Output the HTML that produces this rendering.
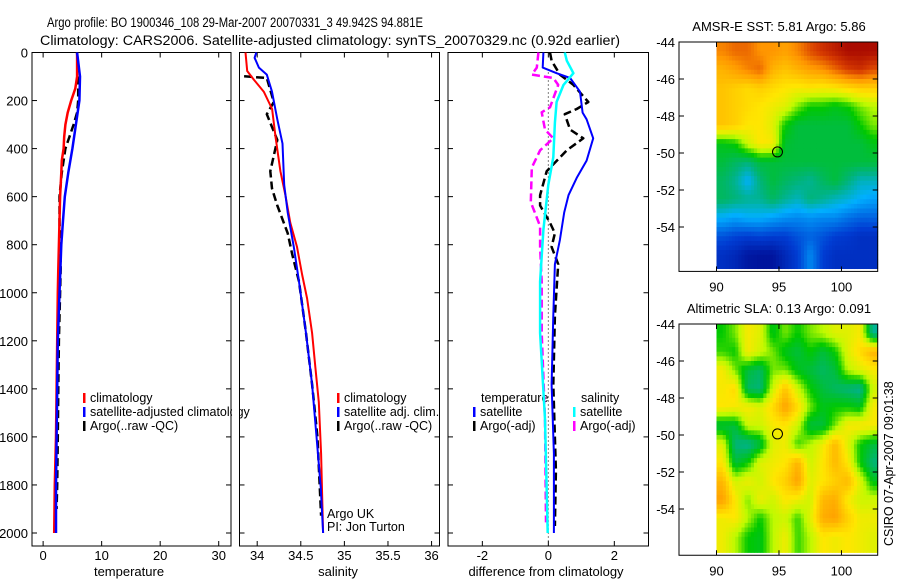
<!DOCTYPE html>
<html><head><meta charset="utf-8"><style>
body{margin:0;background:#fff}
svg{display:block;font-family:"Liberation Sans",sans-serif}
</style></head><body>
<svg id="fig" width="900" height="580" viewBox="0 0 900 580"></svg>
<script>
// ---------- data ----------
const tempDepth=[0,100,150,200,250,300,350,400,450,500,600,700,800,900,1000,1200,1400,1600,1800,2000];
const tempClim=[5.8,5.8,5.5,4.8,4.2,3.8,3.6,3.5,3.2,3.1,2.9,2.8,2.7,2.6,2.5,2.4,2.3,2.2,2.0,1.9];
const tempSatDepth=[0,100,200,300,400,500,600,700,800,1000,1200,1400,1600,1800,2000];
const tempSat=[5.8,6.3,6.2,5.6,5.0,4.3,3.7,3.4,3.1,2.8,2.5,2.4,2.3,2.2,2.2];
const tempArgoDepth=[0,100,200,250,300,350,400,500,600,700,800,900,1000,1200,1400,1600,1800,1900];
const tempArgo=[5.8,6.0,6.0,5.8,5.2,4.5,3.8,3.2,2.8,2.8,2.9,3.0,2.9,2.7,2.6,2.5,2.4,2.3];

const salClimDepth=[0,77,113,163,235,350,494,594,709,809,924,1024,1168,1312,1455,1670,2000];
const salClim=[33.866,33.885,33.961,34.076,34.171,34.21,34.266,34.323,34.38,34.457,34.515,34.572,34.63,34.668,34.706,34.733,34.756];
const salSatDepth=[0,22,63,92,163,278,379,551,666,809,953,1168,1382,1598,1813,2000];
const salSat=[33.99,33.97,34.02,34.11,34.17,34.23,34.29,34.31,34.35,34.42,34.48,34.56,34.63,34.68,34.73,34.756];
const salArgoDepth=[99,106,206,257,364,494,566,637,752,838,953,1168,1382,1598,1928];
const salArgo=[33.85,34.11,34.19,34.11,34.23,34.15,34.17,34.23,34.35,34.40,34.48,34.56,34.63,34.69,34.733];

const dTSatDepth=[0,63,86,106,163,250,278,357,450,522,594,666,780,881,1095,1382,1670,2000];
const dTSat=[-0.15,-0.17,0.25,0.66,0.96,1.04,1.16,1.36,1.16,0.86,0.61,0.48,0.35,0.20,0.15,0.10,0.17,0.17];
const dTArgoDepth=[0,34,92,135,206,235,257,321,357,407,494,594,637,709,752,809,881,1095,1382,1741,1971];
const dTArgo=[0.05,0.1,0.35,0.76,1.21,0.86,0.5,0.66,1.06,0.56,-0.05,-0.25,-0.25,0.05,0.2,0.1,0.3,0.2,0.15,0.23,0.2];
const dSSatDepth=[0,34,86,135,206,292,436,551,738,953,1168,1526,2000];
const dSSat=[0.5,0.56,0.76,0.46,0.25,0.2,0.15,0.0,-0.15,-0.25,-0.25,-0.1,-0.02];
const dSArgoDepth=[0,63,92,106,135,228,249,321,357,407,479,623,723,809,953,1168,1526,1956];
const dSArgo=[-0.3,-0.35,-0.5,0.15,0.3,0.05,-0.2,-0.1,0.15,-0.25,-0.5,-0.53,-0.25,-0.25,-0.2,-0.2,-0.1,-0.07];

const depthTicks=[0,200,400,600,800,1000,1200,1400,1600,1800,2000];
const tempTicks=[0,10,20,30];
const salTicks=[34,34.5,35,35.5,36];
const salTickLabels=["34","34.5","35","35.5","36"];
const diffTicks=[-2,0,2];
const latTicks=[-44,-46,-48,-50,-52,-54];
const lonTicks=[90,95,100];

const sstGrid=[
[0.82,0.85,0.85,0.8,0.8,0.78,0.82,0.88,0.92,0.95,0.98,0.98,0.98],
[0.75,0.78,0.82,0.85,0.75,0.72,0.75,0.78,0.8,0.85,0.9,0.92,0.88],
[0.72,0.7,0.68,0.7,0.68,0.66,0.65,0.66,0.65,0.66,0.68,0.7,0.7],
[0.72,0.7,0.68,0.66,0.64,0.62,0.55,0.5,0.5,0.48,0.5,0.55,0.58],
[0.72,0.7,0.66,0.66,0.62,0.5,0.45,0.45,0.45,0.45,0.45,0.5,0.55],
[0.48,0.5,0.6,0.66,0.65,0.46,0.45,0.45,0.45,0.45,0.45,0.45,0.48],
[0.45,0.42,0.4,0.45,0.45,0.45,0.45,0.45,0.45,0.45,0.45,0.45,0.45],
[0.42,0.38,0.3,0.4,0.45,0.42,0.4,0.38,0.42,0.45,0.4,0.35,0.35],
[0.42,0.4,0.38,0.38,0.42,0.38,0.35,0.4,0.38,0.35,0.33,0.3,0.28],
[0.3,0.28,0.3,0.3,0.28,0.26,0.25,0.26,0.25,0.25,0.22,0.2,0.2],
[0.18,0.16,0.15,0.16,0.15,0.15,0.18,0.2,0.18,0.15,0.14,0.12,0.12],
[0.12,0.1,0.06,0.05,0.05,0.1,0.15,0.25,0.15,0.12,0.12,0.12,0.12]];
const slaGrid=[
[0.5,0.55,0.65,0.62,0.48,0.55,0.5,0.55,0.58,0.62,0.62,0.65,0.38],
[0.52,0.5,0.65,0.6,0.55,0.48,0.45,0.5,0.45,0.5,0.62,0.68,0.75],
[0.65,0.55,0.45,0.42,0.55,0.55,0.48,0.45,0.42,0.45,0.58,0.62,0.65],
[0.65,0.68,0.42,0.4,0.6,0.72,0.6,0.5,0.45,0.42,0.4,0.38,0.6],
[0.66,0.65,0.65,0.62,0.68,0.78,0.68,0.55,0.48,0.5,0.5,0.48,0.65],
[0.45,0.45,0.6,0.6,0.65,0.66,0.6,0.45,0.45,0.55,0.65,0.66,0.65],
[0.62,0.4,0.38,0.45,0.62,0.64,0.52,0.58,0.64,0.74,0.62,0.5,0.45],
[0.66,0.45,0.5,0.62,0.64,0.66,0.75,0.6,0.66,0.74,0.66,0.5,0.4],
[0.74,0.6,0.64,0.6,0.66,0.7,0.78,0.62,0.66,0.7,0.74,0.62,0.48],
[0.78,0.66,0.55,0.64,0.6,0.66,0.64,0.6,0.74,0.76,0.65,0.6,0.6],
[0.64,0.66,0.58,0.5,0.58,0.6,0.52,0.62,0.76,0.78,0.7,0.64,0.64],
[0.64,0.58,0.5,0.48,0.58,0.64,0.52,0.58,0.66,0.64,0.66,0.64,0.62]];

// ---------- helpers ----------
const NS="http://www.w3.org/2000/svg";
const svg=document.getElementById('fig');
function mk(tag,attrs,parent){const e=document.createElementNS(NS,tag);for(const k in attrs)e.setAttribute(k,attrs[k]);(parent||svg).appendChild(e);return e;}
function txt(x,y,s,size,anchor,parent){const t=mk('text',{x:x,y:y,'font-size':size,'text-anchor':anchor||'start',fill:'#000'},parent);t.textContent=s;return t;}

const TOP=52.5,BOT=546,D0=52.5,D2000=533;
const yD=d=>D0+d*(D2000-D0)/2000;
const panels=[
 {name:'temperature',x0:32,x1:231,xmin:-1.9,xmax:32.1},
 {name:'salinity',x0:239.5,x1:439.5,xmin:33.797,xmax:36.091},
 {name:'difference',x0:448,x1:648.5,xmin:-3.041,xmax:3.036}];
panels.forEach(p=>{p.sx=v=>p.x0+(v-p.xmin)*(p.x1-p.x0)/(p.xmax-p.xmin);});

function axesBox(p,name){
 const g=mk('g',{});
 
 
 mk('rect',{x:p.x0,y:TOP,width:p.x1-p.x0,height:BOT-TOP,fill:'none',stroke:'#000','stroke-width':1},g);
 depthTicks.forEach(d=>{const y=yD(d);
  mk('line',{x1:p.x0,x2:p.x0+5,y1:y,y2:y,stroke:'#000'},g);
  mk('line',{x1:p.x1-5,x2:p.x1,y1:y,y2:y,stroke:'#000'},g);});
 return g;
}
function xTicks(p,g,ticks,labels){
 ticks.forEach((v,i)=>{const x=p.sx(v);
  mk('line',{x1:x,x2:x,y1:BOT,y2:BOT-5,stroke:'#000'},g);
  mk('line',{x1:x,x2:x,y1:TOP,y2:TOP+5,stroke:'#000'},g);
  const t=txt(x,560,labels?labels[i]:String(v),13,'middle',g);
  
  });
}
function line(p,vals,depths,color,w,dash,name){
 const pts=vals.map((v,i)=>p.sx(v).toFixed(1)+','+yD(depths[i]).toFixed(1)).join(' ');
 const a={points:pts,fill:'none',stroke:color,'stroke-width':w,'stroke-linejoin':'round'};
 if(dash)a['stroke-dasharray']=dash;
 const e=mk('polyline',a);
 
 
}
function legend(x,y,items,g){
 items.forEach((it,i)=>{const yy=y+i*14;
  mk('rect',{x:x,y:yy-9,width:2.5,height:10,fill:it[1]},g);
  const t=txt(x+7,yy,it[0],12.5,'start',g);
  
  });
}

// titles
let t1=txt(47,27,'Argo profile: BO 1900346_108 29-Mar-2007 20070331_3 49.942S 94.881E',13.5);
t1.setAttribute('textLength','376');
t1.setAttribute('lengthAdjust','spacingAndGlyphs');


let t2=txt(40,45,'Climatology: CARS2006. Satellite-adjusted climatology: synTS_20070329.nc (0.92d earlier)',13.5);
t2.setAttribute('textLength','580');
t2.setAttribute('lengthAdjust','spacingAndGlyphs');



// panel 1
let p=panels[0];
let g=axesBox(p,'temperature');
depthTicks.forEach(d=>{const t=txt(28,yD(d)+5,String(d),13,'end',g);
 
 });
xTicks(p,g,tempTicks);
let xl=txt(129,576,'temperature',13,'middle',g);


line(p,tempArgo,tempArgoDepth,'#000',2.5,'8,4','temp-argo-line');
line(p,tempClim,tempDepth,'#f00',2.5,null,'temp-climatology-line');
line(p,tempSat,tempSatDepth,'#00f',2.5,null,'temp-satellite-line');
legend(83,402,[['climatology','#f00'],['satellite-adjusted climatology','#00f'],['Argo(..raw -QC)','#000']],g);
mk('rect',{x:232,y:380,width:7,height:60,fill:'#fff'});

// panel 2
p=panels[1];
g=axesBox(p,'salinity');
xTicks(p,g,salTicks,salTickLabels);
xl=txt(338,576,'salinity',13,'middle',g);


line(p,salArgo,salArgoDepth,'#000',2.5,'8,4','sal-argo-line');
line(p,salClim,salClimDepth,'#f00',2,null,'sal-climatology-line');
line(p,salSat,salSatDepth,'#00f',2,null,'sal-satellite-line');
legend(337,402,[['climatology','#f00'],['satellite adj. clim.','#00f'],['Argo(..raw -QC)','#000']],g);
let a1=txt(327,518,'Argo UK',12.5,'start',g);


let a3=txt(327,531,'PI: Jon Turton',12.5,'start',g);



// panel 3
p=panels[2];
g=axesBox(p,'difference');
xTicks(p,g,diffTicks);
xl=txt(546,576,'difference from climatology',13,'middle',g);


let zl=mk('line',{x1:p.sx(0),x2:p.sx(0),y1:yD(0)+20,y2:BOT-5,stroke:'#000','stroke-width':1,'stroke-dasharray':'1,3'},g);


line(p,dTArgo,dTArgoDepth,'#000',2.5,'8,4','diff-temp-argo-line');
line(p,dSArgo,dSArgoDepth,'#f0f',2.5,'8,4','diff-sal-argo-line');
line(p,dTSat,dTSatDepth,'#00f',2,null,'diff-temp-satellite-line');
line(p,dSSat,dSSatDepth,'#0ff',2.5,null,'diff-sal-satellite-line');
let lt=txt(481,402,'temperature',12.5,'start',g);


let ls=txt(581,402,'salinity',12.5,'start',g);


legend(473,416,[['satellite','#00f'],['Argo(-adj)','#000']],g);
legend(573,416,[['satellite','#0ff'],['Argo(-adj)','#f0f']],g);

// ---------- maps ----------
const cmapStops=[[0,0,0,130],[0.15,0,60,210],[0.3,0,175,255],[0.4,0,180,120],[0.5,0,200,0],[0.58,190,250,0],[0.66,255,230,0],[0.8,255,150,0],[0.9,215,60,0],[1,160,0,0]];
function cmap(v){v=Math.max(0,Math.min(1,v));
 for(let i=1;i<cmapStops.length;i++){const a=cmapStops[i-1],b=cmapStops[i];
  if(v<=b[0]){const t=(v-a[0])/(b[0]-a[0]);
   return `rgb(${Math.round(a[1]+t*(b[1]-a[1]))},${Math.round(a[2]+t*(b[2]-a[2]))},${Math.round(a[3]+t*(b[3]-a[3]))})`;}}
 return 'rgb(160,0,0)';}
function sample(grid,lon,lat){
 const fc=Math.max(0,Math.min(12,lon-90.5)),fr=Math.max(0,Math.min(11,-44.5-lat));
 const c0=Math.floor(fc),r0=Math.floor(fr),c1=Math.min(12,c0+1),r1=Math.min(11,r0+1);
 const tc=fc-c0,tr=fr-r0;
 const a=grid[r0][c0]*(1-tc)+grid[r0][c1]*tc, b=grid[r1][c0]*(1-tc)+grid[r1][c1]*tc;
 return a*(1-tr)+b*tr;}
function map(top,bottomLat,grid,title,name){
 const X0=679,X1=877.7,lonMin=87.0,lonMax=102.9,SC=18.5;
 const sx=l=>X0+(l-lonMin)*(X1-X0)/(lonMax-lonMin);
 const sy=la=>top+(-44-la)*SC;
 const bot=sy(bottomLat);
 const gm=mk('g',{});
 
 
 const step=0.25, dataBottom=bottomLat+0.15;
 for(let lat=-44;lat>dataBottom-1e-6;lat-=step){
  for(let lon=90;lon<102.9-1e-6;lon+=step){
   const v=sample(grid,lon+step/2,lat-step/2);
   const x=sx(lon),y=sy(lat);
   const w=Math.min(sx(lon+step),X1)-x;
   const h=Math.min(sy(lat-step),sy(dataBottom))-y;
   if(w<=0||h<=0)continue;
   const cell=mk('rect',{x:x.toFixed(2),y:y.toFixed(2),width:(w+0.4).toFixed(2),height:(h+0.4).toFixed(2),fill:cmap(v)},gm);
   
   
  }}
 mk('rect',{x:X0,y:top,width:X1-X0,height:bot-top,fill:'none',stroke:'#000'},gm);
 latTicks.forEach(la=>{const y=sy(la);
  mk('line',{x1:X0,x2:X0+5,y1:y,y2:y,stroke:'#000'},gm);
  mk('line',{x1:X1-5,x2:X1,y1:y,y2:y,stroke:'#000'},gm);
  const t=txt(X0-4,y+5,String(la),13,'end',gm);
  
  });
 lonTicks.forEach(lo=>{const x=sx(lo);
  mk('line',{x1:x,x2:x,y1:bot,y2:bot-5,stroke:'#000'},gm);
  mk('line',{x1:x,x2:x,y1:top,y2:top+5,stroke:'#000'},gm);
  const t=txt(x,bot+20,String(lo),13,'middle',gm);
  
  });
 const c=mk('circle',{cx:sx(94.881),cy:sy(-49.942),r:5,fill:'none',stroke:'#000','stroke-width':1},gm);
 
 
 const t=txt(779,top-11,title,13,'middle',gm);
 
 
}
map(42,-56.4,sstGrid,'AMSR-E SST: 5.81 Argo: 5.86','sst-map');
map(324,-56.5,slaGrid,'Altimetric SLA: 0.13 Argo: 0.091','sla-map');
let cs=txt(0,0,'CSIRO 07-Apr-2007 09:01:38',12.5,'start');
cs.setAttribute('transform','translate(893,546) rotate(-90)');


</script>
</body></html>
